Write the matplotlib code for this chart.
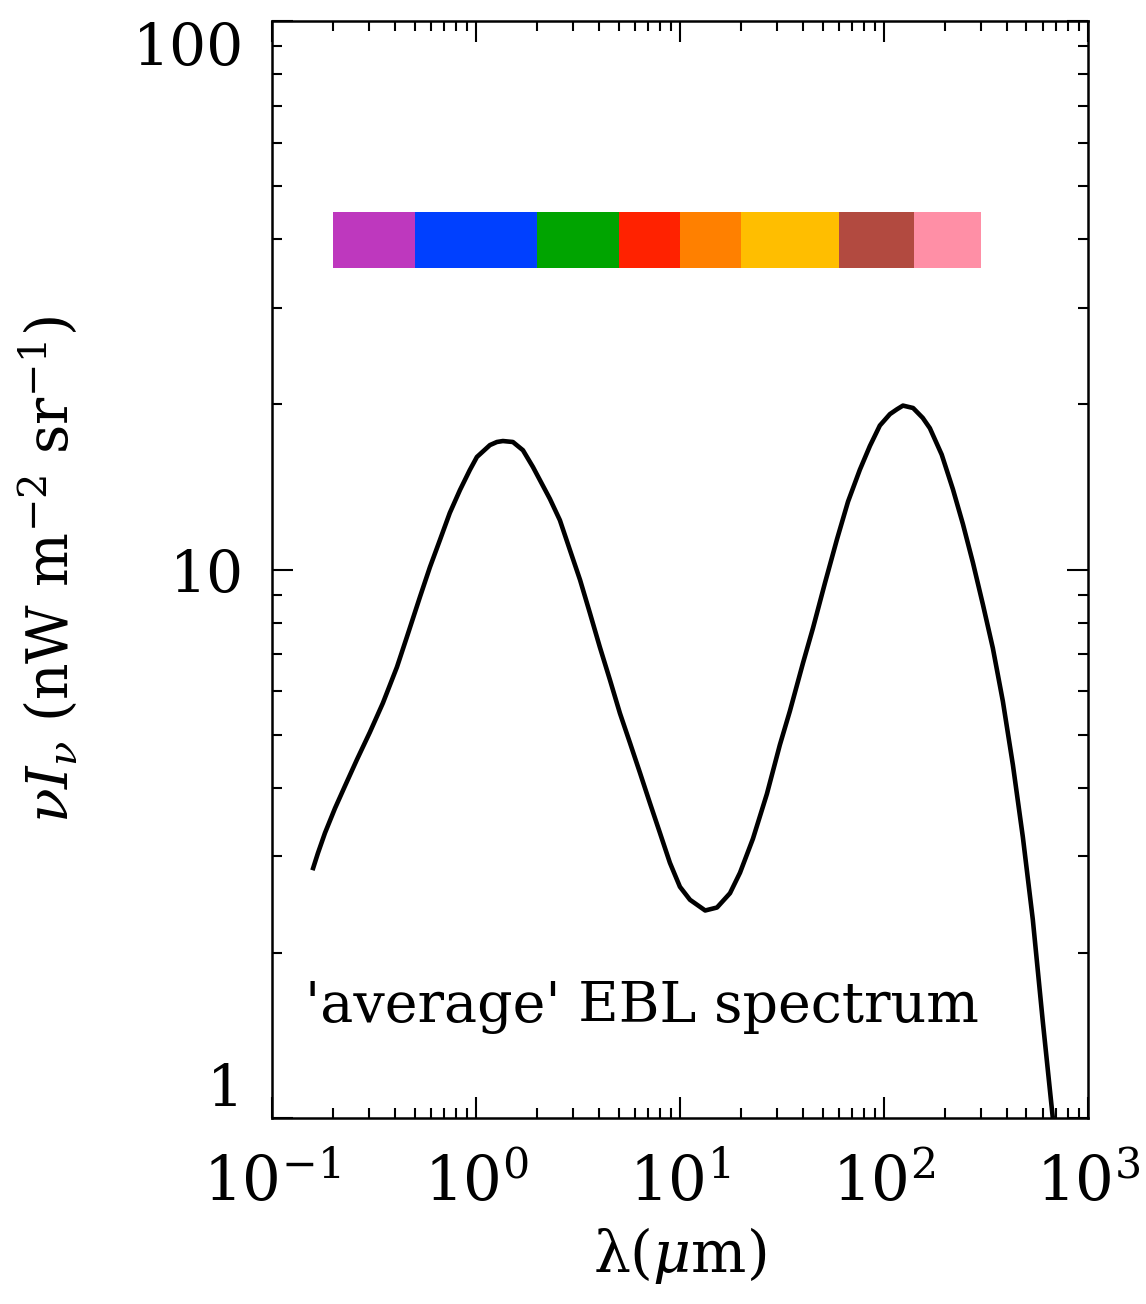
import numpy as np
import matplotlib
matplotlib.use("Agg")
import matplotlib.pyplot as plt
from matplotlib.ticker import LogLocator, NullFormatter, FixedLocator

plt.rcParams['font.family'] = 'DejaVu Serif'
plt.rcParams['mathtext.fontset'] = 'dejavuserif'

# EBL spectrum (wavelength in micron, nuI_nu in nW m^-2 sr^-1)
lam = [0.158, 0.168, 0.182, 0.2037, 0.228, 0.2608, 0.302, 0.3499, 0.410, 0.4585,
       0.5314, 0.5949, 0.666, 0.7444, 0.835, 0.9328, 1.011, 1.171, 1.267,
       1.356, 1.518, 1.70, 1.903, 2.05, 2.305, 2.58, 2.89, 3.24, 3.62, 4.05,
       4.54, 5.08, 5.69, 6.37, 7.13, 7.98, 8.93, 10.0, 11.2, 13.3, 15.2, 17.6,
       19.7, 22.8, 26.7, 30.9, 34.6, 40.1, 44.9, 51.4, 58.9, 66.7, 76.2, 85.4,
       95.5, 107.0, 116.0, 124.0, 139.0, 155.0, 168.0, 192.0, 218.0, 244.0,
       273.0, 306.0, 342.0, 383.0, 429.0, 480.0, 537.0, 601.0, 673.0]
nuInu = [2.83, 3.04, 3.31, 3.67, 4.03, 4.50, 5.05, 5.71, 6.64, 7.53,
         8.91, 10.1, 11.32, 12.68, 13.96, 15.18, 16.04, 16.86, 17.08,
         17.15, 17.08, 16.5, 15.38, 14.6, 13.45, 12.3, 10.85, 9.57, 8.33, 7.22,
         6.29, 5.47, 4.83, 4.26, 3.75, 3.31, 2.92, 2.64, 2.50, 2.39, 2.42, 2.57,
         2.80, 3.23, 3.90, 4.79, 5.52, 6.75, 7.82, 9.45, 11.36, 13.3, 15.2, 16.8,
         18.3, 19.2, 19.6, 19.9, 19.7, 18.9, 18.1, 16.2, 14.0, 12.1,
         10.3, 8.62, 7.19, 5.75, 4.4, 3.25, 2.3, 1.5, 1.0]

# wavelength bands of the colour strip
band_edges = [0.2, 0.5, 2.0, 5.0, 10.0, 20.0, 60.0, 140.0, 300.0]
band_colors = ['#BE38BE', '#0040FF', '#00A400', '#FF2200', '#FF8000',
               '#FFBE00', '#B24A40', '#FF8FA6']
band_low, band_high = 35.4, 44.9

fig = plt.figure(figsize=(11.46, 13.04), dpi=100)
ax = fig.add_axes([0.2373, 0.1426, 0.712, 0.8413])

for i in range(len(band_colors)):
    ax.fill_between([band_edges[i], band_edges[i + 1]], band_low, band_high,
                    color=band_colors[i], linewidth=0)

ax.plot(lam, nuInu, color='black', lw=3.3, solid_joinstyle='round',
        solid_capstyle='butt')

ax.set_xscale('log')
ax.set_yscale('log')
ax.set_xlim(0.1, 1000)
ax.set_ylim(1, 100)

ax.xaxis.set_major_locator(FixedLocator([0.1, 1, 10, 100, 1000]))
ax.set_xticklabels([r'$10^{-1}$', r'$10^{0}$', r'$10^{1}$', r'$10^{2}$', r'$10^{3}$'])
ax.xaxis.set_minor_locator(LogLocator(base=10, subs=np.arange(2, 10)))
ax.xaxis.set_minor_formatter(NullFormatter())
ax.yaxis.set_major_locator(FixedLocator([1, 10, 100]))
ax.set_yticklabels(['1', '10', '100'])
ax.yaxis.set_minor_locator(LogLocator(base=10, subs=np.arange(2, 10)))
ax.yaxis.set_minor_formatter(NullFormatter())

ax.tick_params(which='both', direction='in', top=True, right=True, width=1.5)
ax.tick_params(which='major', length=15)
ax.tick_params(which='minor', length=7.5)
ax.tick_params(axis='x', pad=26, labelsize=44)
ax.tick_params(axis='y', pad=20, labelsize=42)
ylabs = ax.get_yticklabels()
ylabs[0].set_va('bottom')
ylabs[2].set_va('top')
for s in ax.spines.values():
    s.set_linewidth(1.8)

ax.text(0.145, 1.496, "'average' EBL spectrum", fontsize=40, va='baseline', ha='left')

ax.set_xlabel(u'\u03bb($\\mu$m)', fontsize=42, labelpad=8)
ax.set_ylabel(r'$\nu I_\nu$ (nW m$^{-2}$ sr$^{-1}$)', fontsize=41, labelpad=38)

fig.savefig('out.png', dpi=100)
